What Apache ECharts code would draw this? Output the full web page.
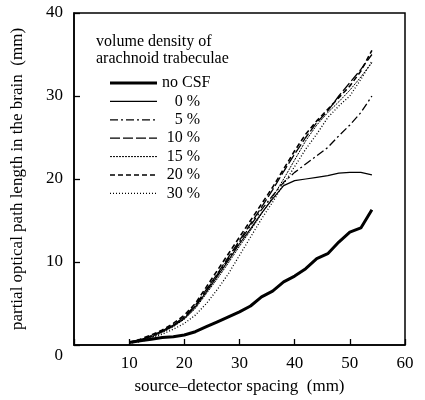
<!DOCTYPE html>
<html>
<head>
<meta charset="utf-8">
<script src="https://cdn.jsdelivr.net/npm/echarts@6/dist/echarts.min.js"></script>
<style>
  html, body { margin: 0; padding: 0; background: #fff; }
  #chart { width: 425px; height: 400px; }
</style>
</head>
<body>
<div id="chart"></div>
<script>
// source-detector spacing (mm)
const spacing = [10, 12, 14, 16, 18, 20, 22, 24, 26, 28, 30, 32, 34, 36, 38, 40, 42, 44, 46, 48, 50, 52, 54];

// partial optical path length in the brain (mm)
const noCsf  = [0.3, 0.5, 0.7, 0.9, 1.0, 1.2, 1.6, 2.2, 2.8, 3.4, 4.0, 4.7, 5.8, 6.5, 7.6, 8.3, 9.2, 10.4, 11.0, 12.4, 13.6, 14.1, 16.3];
const pct0   = [0.3, 0.6, 1.0, 1.6, 2.3, 3.2, 4.6, 6.4, 8.3, 10.2, 12.2, 14.0, 15.9, 17.6, 19.2, 19.8, 20.0, 20.2, 20.4, 20.7, 20.8, 20.8, 20.5];
const pct5   = [0.3, 0.6, 1.1, 1.7, 2.4, 3.3, 4.7, 6.6, 8.5, 10.4, 12.4, 14.4, 16.3, 18.0, 19.6, 20.8, 21.8, 22.8, 23.8, 25.2, 26.5, 28.0, 30.0];
const pct10  = [0.3, 0.6, 1.1, 1.7, 2.4, 3.4, 4.8, 6.7, 8.6, 10.6, 12.6, 14.6, 16.6, 18.7, 20.9, 23.0, 25.0, 26.8, 28.2, 30.0, 31.6, 33.2, 35.0];
const pct15  = [0.3, 0.5, 0.9, 1.5, 2.2, 3.1, 4.4, 6.2, 8.0, 9.9, 11.9, 13.8, 15.8, 17.8, 20.0, 22.3, 24.6, 26.5, 28.0, 29.3, 30.7, 32.3, 34.0];
const pct20  = [0.3, 0.7, 1.2, 1.8, 2.6, 3.6, 5.0, 7.0, 9.0, 11.0, 13.0, 15.0, 17.0, 19.0, 21.2, 23.4, 25.4, 27.0, 28.4, 29.8, 31.2, 33.0, 35.5];
const pct30  = [0.2, 0.4, 0.8, 1.3, 1.9, 2.6, 3.6, 5.0, 6.7, 8.6, 10.8, 13.0, 15.2, 17.2, 19.4, 21.5, 23.6, 25.4, 27.4, 28.8, 30.0, 32.0, 34.2];

const seriesNames = ['no CSF', '0 %', '5 %', '10 %', '15 %', '20 %', '30 %'];
const seriesData = [noCsf, pct0, pct5, pct10, pct15, pct20, pct30];
const lineStyles = [
    { width: 3, type: 'solid' },
    { width: 1.2, type: 'solid' },
    { width: 1.3, type: [8, 3, 2, 3] },
    { width: 1.3, type: [10, 3] },
    { width: 1, type: [2, 1] },
    { width: 1.6, type: [5, 3] },
    { width: 1.3, type: [1, 2] }
];

const FONT = '"Liberation Serif", "DejaVu Serif", serif';

document.addEventListener('DOMContentLoaded', () => {
    const chart = echarts.init(document.getElementById('chart'));

    const series = seriesNames.map((name, i) => ({
        name,
        type: 'line',
        data: spacing.map((x, j) => [x, seriesData[i][j]]),
        showSymbol: false,
        smooth: false,
        lineStyle: Object.assign({ color: '#000' }, lineStyles[i]),
        z: 10 - i
    }));

    // hand drawn legend, like the original figure
    const legendX0 = 110, legendX1 = 157, rowY0 = 83, rowStep = 18.4;
    const graphic = [
        { type: 'text', left: 96, top: 34, style: { text: 'volume density of', font: '16px ' + FONT, fill: '#000' } },
        { type: 'text', left: 96, top: 51, style: { text: 'arachnoid trabeculae', font: '16px ' + FONT, fill: '#000' } }
    ];
    seriesNames.forEach((name, i) => {
        const y = rowY0 + i * rowStep;
        graphic.push({
            type: 'line',
            shape: { x1: legendX0, y1: y, x2: legendX1, y2: y },
            style: { stroke: '#000', lineWidth: lineStyles[i].width, lineDash: lineStyles[i].type === 'solid' ? null : lineStyles[i].type }
        });
        graphic.push({
            type: 'text',
            x: i === 0 ? 162 : 200,
            y: y,
            style: {
                text: name,
                font: '16px ' + FONT,
                fill: '#000',
                align: i === 0 ? 'left' : 'right',
                verticalAlign: 'middle'
            }
        });
    });

    const option = {
        backgroundColor: '#fff',
        animation: false,
        textStyle: { fontFamily: FONT, color: '#000' },
        grid: {
            left: 74, right: 20, top: 13, bottom: 54,
            show: true, borderColor: '#000', borderWidth: 1.5,
            containLabel: false
        },
        xAxis: {
            type: 'value',
            min: 0, max: 60, interval: 10,
            name: 'source\u2013detector spacing  (mm)',
            nameLocation: 'middle',
            nameGap: 33,
            nameTextStyle: { fontSize: 17, fontFamily: FONT, color: '#000' },
            axisLine: { show: true, lineStyle: { color: '#000', width: 1.5 } },
            axisTick: { show: true, inside: true, length: 6, lineStyle: { color: '#000', width: 1.3 } },
            axisLabel: {
                fontSize: 17, fontFamily: FONT, color: '#000', margin: 10,
                formatter: v => (v === 0 ? '' : String(v))
            },
            splitLine: { show: false }
        },
        yAxis: {
            type: 'value',
            min: 0, max: 40, interval: 10,
            name: 'partial optical path length in the brain  (mm)',
            nameLocation: 'middle',
            nameGap: 48,
            nameTextStyle: { fontSize: 17, fontFamily: FONT, color: '#000' },
            axisLine: { show: true, lineStyle: { color: '#000', width: 1.5 } },
            axisTick: { show: true, inside: true, length: 6, lineStyle: { color: '#000', width: 1.3 } },
            axisLabel: {
                fontSize: 17, fontFamily: FONT, color: '#000', margin: 11,
                formatter: v => (v === 0 ? '{z|0}' : String(v)),
                rich: { z: { fontSize: 17, fontFamily: FONT, color: '#000', padding: [22, 0, 0, 0] } }
            },
            splitLine: { show: false }
        },
        graphic,
        series
    };

    chart.setOption(option);
});
</script>
</body>
</html>
